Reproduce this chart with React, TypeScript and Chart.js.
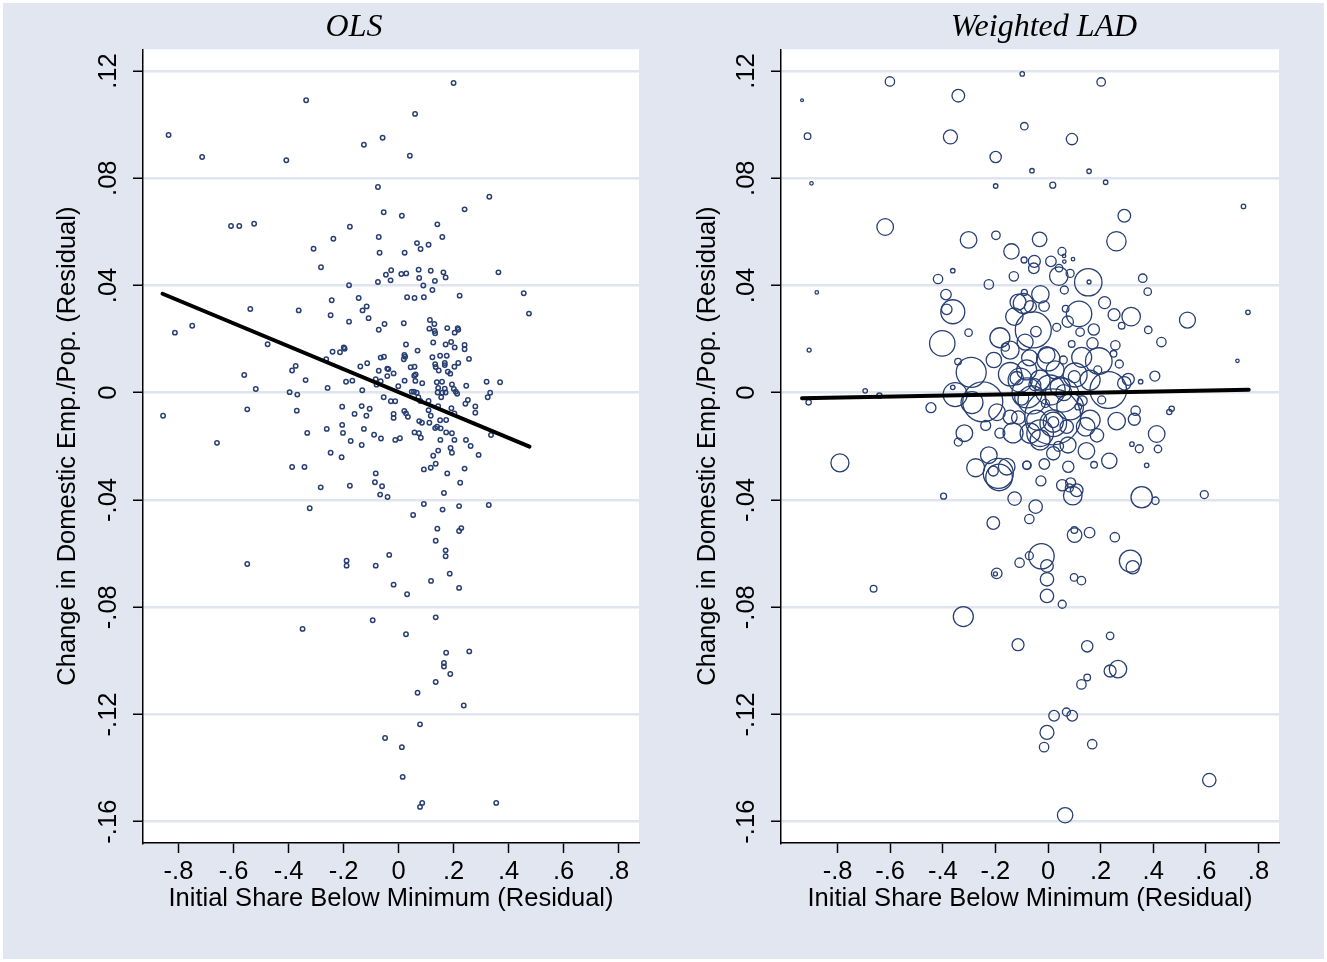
import React, { useEffect, useRef } from 'react';
import { Chart, registerables } from 'chart.js';

Chart.register(...registerables);

// ---------- data ----------
const PANEL_TITLES = ['OLS', 'Weighted LAD'];
const X_TITLE = 'Initial Share Below Minimum (Residual)';
const Y_TITLE = 'Change in Domestic Emp./Pop. (Residual)';
const X_TICKS = [-0.8, -0.6, -0.4, -0.2, 0, 0.2, 0.4, 0.6, 0.8];
const Y_TICKS = [0.12, 0.08, 0.04, 0, -0.04, -0.08, -0.12, -0.16];

// OLS panel: residual points
const OLS_X = [
  -0.836, -0.714, -0.408, -0.336, -0.126, -0.058, -0.075, -0.054, -0.072, -0.069,
  -0.609, -0.579, -0.525, -0.177, -0.237, -0.309, -0.282, -0.180, -0.075, -0.046,
  -0.145, -0.243, -0.247, -0.131, -0.116, -0.109, -0.180, -0.072, -0.051, -0.539,
  -0.363, -0.813, -0.750, -0.476, -0.240, -0.213, -0.199, -0.196, -0.263, -0.065,
  -0.053, -0.139, -0.114, -0.072, -0.041, -0.041, -0.387, -0.374, -0.338, -0.561,
  -0.519, -0.258, -0.191, -0.168, -0.132, -0.083, -0.080, -0.065, -0.856, -0.660,
  -0.550, -0.396, -0.368, -0.370, -0.332, -0.205, -0.134, -0.105, -0.160, -0.117,
  -0.054, -0.205, -0.261, -0.202, -0.126, -0.174, -0.089, -0.064, -0.134, -0.247,
  -0.207, -0.387, -0.342, -0.283, -0.177, -0.083, -0.086, -0.060, -0.067, -0.040,
  -0.323, -0.550, -0.189, -0.189, -0.083, -0.034, -0.094, -0.349, -0.049,
  0.200, 0.060, 0.041, 0.330, 0.240, 0.012, 0.141, 0.159, 0.067, 0.080,
  0.109, 0.022, -0.027, -0.029, 0.010, 0.028, 0.073, 0.075, 0.117, 0.132,
  0.163, 0.171, 0.090, 0.123, 0.363, 0.031, 0.058, 0.092, 0.222, 0.455,
  0.474, 0.019, 0.114, 0.130, 0.112, 0.131, 0.133, 0.177, 0.215, 0.217,
  0.204, 0.027, 0.126, 0.171, 0.191, 0.204, 0.240, 0.240, 0.069, 0.021,
  0.024, 0.019, 0.123, 0.151, 0.175, 0.256, 0.133, 0.168, 0.168, 0.217,
  0.203, 0.044, 0.058, 0.135, 0.146, 0.179, 0.188, -0.037, -0.018, 0.062,
  0.057, 0.022, 0.061, 0.086, 0.139, 0.158, 0.194, 0.246, 0.320, 0.369,
  -0.001, 0.201, 0.144, 0.168, 0.208, 0.213, 0.142, 0.159, 0.171, 0.048,
  0.056, 0.066, 0.333, 0.324, 0.252, 0.243, 0.279, 0.279, -0.028, -0.012,
  0.072, 0.079, 0.109, 0.155, 0.144, 0.192, 0.203, 0.173, 0.109, 0.117,
  0.021, 0.027, 0.034, -0.018, -0.018, 0.075, 0.085, 0.112, 0.151, 0.140,
  0.133, 0.153, 0.058, 0.074, 0.081, 0.173, 0.194, 0.336, -0.012, 0.005,
  0.152, 0.203, 0.245, 0.262, 0.189, 0.194, 0.144, 0.126, 0.291,
  0.092, 0.117, 0.135, 0.177, 0.240, 0.224, 0.165, 0.092, 0.160, 0.220,
  0.328, 0.053, 0.141, 0.220, 0.228, 0.135, 0.171, 0.171, 0.186, 0.118,
  0.220, -0.018, 0.031, 0.135, 0.027, 0.173, 0.257, 0.165, 0.165, 0.188,
  0.135, 0.069, 0.237, 0.078, 0.012, 0.015, 0.086, 0.078, 0.355,
];
const OLS_Y = [
  0.0961, 0.0879, 0.0867, 0.1091, 0.0925, 0.0951, 0.0767, 0.0673, 0.0581, 0.0522,
  0.0622, 0.0622, 0.0630, 0.0619, 0.0574, 0.0537, 0.0468, 0.0401, 0.0413, 0.0440,
  0.0353, 0.0345, 0.0289, 0.0307, 0.0322, 0.0278, 0.0265, 0.0235, 0.0256, 0.0312,
  0.0307, 0.0224, 0.0250, 0.0181, 0.0153, 0.0151, 0.0169, 0.0164, 0.0125, 0.0131,
  0.0134, 0.0098, 0.0110, 0.0082, 0.0090, 0.0062, 0.0083, 0.0100, 0.0047, 0.0066,
  0.0014, 0.0018, 0.0041, 0.0045, 0.0009, 0.0050, 0.0030, 0.0043, -0.0086, -0.0187,
  -0.0062, 0.0002, -0.0007, -0.0067, -0.0150, -0.0052, -0.0050, -0.0060, -0.0079, -0.0086,
  -0.0017, -0.0120, -0.0135, -0.0150, -0.0135, -0.0180, -0.0157, -0.0171, -0.0195, -0.0224,
  -0.0241, -0.0277, -0.0277, -0.0353, -0.0347, -0.0301, -0.0334, -0.0349, -0.0380, -0.0389,
  -0.0431, -0.0639, -0.0627, -0.0645, -0.0645, -0.0605, -0.0849, -0.0881, -0.1288,
  0.1155, 0.1040, 0.0884, 0.0731, 0.0684, 0.0660, 0.0628, 0.0581, 0.0558, 0.0536,
  0.0552, 0.0522, 0.0457, 0.0419, 0.0443, 0.0445, 0.0459, 0.0428, 0.0455, 0.0417,
  0.0449, 0.0430, 0.0400, 0.0383, 0.0449, 0.0356, 0.0353, 0.0356, 0.0362, 0.0371,
  0.0295, 0.0259, 0.0271, 0.0256, 0.0239, 0.0230, 0.0222, 0.0241, 0.0241, 0.0235,
  0.0224, 0.0180, 0.0187, 0.0180, 0.0189, 0.0169, 0.0178, 0.0162, 0.0157, 0.0141,
  0.0134, 0.0125, 0.0132, 0.0138, 0.0138, 0.0126, 0.0106, 0.0111, 0.0103, 0.0111,
  0.0097, 0.0095, 0.0097, 0.0096, 0.0083, 0.0078, 0.0071, 0.0088, 0.0072, 0.0068,
  0.0063, 0.0045, 0.0044, 0.0035, 0.0039, 0.0041, 0.0031, 0.0026, 0.0041, 0.0039,
  0.0024, 0.0014, 0.0018, 0.0015, 0.0004, -0.0004, 0.0001, 0.0000, 0.0001, 0.0004,
  0.0004, 0.0000, 0.0000, -0.0017, -0.0027, -0.0041, -0.0051, -0.0075, -0.0032, -0.0032,
  -0.0017, -0.0031, -0.0031, -0.0017, -0.0050, -0.0058, -0.0077, -0.0102, -0.0065, -0.0086,
  -0.0068, -0.0077, -0.0090, -0.0079, -0.0094, -0.0106, -0.0112, -0.0112, -0.0103, -0.0127,
  -0.0132, -0.0133, -0.0148, -0.0151, -0.0168, -0.0148, -0.0151, -0.0158, -0.0176, -0.0170,
  -0.0176, -0.0176, -0.0176, -0.0199, -0.0206, -0.0224, -0.0216, -0.0235, -0.0232,
  -0.0286, -0.0280, -0.0265, -0.0301, -0.0283, -0.0336, -0.0374, -0.0415, -0.0436, -0.0423,
  -0.0419, -0.0456, -0.0507, -0.0516, -0.0505, -0.0552, -0.0588, -0.0610, -0.0675, -0.0702,
  -0.0728, -0.0716, -0.0752, -0.0838, -0.0901, -0.0970, -0.0965, -0.1008, -0.1021, -0.1049,
  -0.1079, -0.1119, -0.1167, -0.1237, -0.1322, -0.1433, -0.1530, -0.1545, -0.1530,
];
const OLS_FIT_X = [-0.858, 0.476];
const OLS_FIT_Y = [0.0369, -0.0201];

// Weighted LAD panel: residual points with weights
const LAD_X = [
  -0.935, -0.601, -0.341, -0.914, -0.371, -0.098, -0.090, -0.199, -0.899, -0.199,
  -0.619, -0.302, -0.198, -0.139, -0.091, -0.362, -0.418, -0.130, -0.225, -0.879,
  -0.388, -0.090, -0.362, -0.385, -0.128, -0.402, -0.302, -0.183, -0.162, -0.908,
  -0.342, -0.206, -0.292, -0.362, -0.353, -0.289, -0.248, -0.144, -0.119, -0.695,
  -0.641, -0.910, -0.445, -0.194, -0.113, -0.318, -0.341, -0.237, -0.225, -0.791,
  -0.275, -0.189, -0.208, -0.157, -0.186, -0.081, -0.397, -0.127, -0.208, -0.108,
  -0.195, -0.200, -0.663, -0.322, -0.114, -0.071,
  -0.027, 0.054, 0.086, 0.109, 0.094, 0.081, 0.356, 0.408, 0.594, -0.047,
  -0.071, 0.101, 0.100, 0.158, 0.254, -0.025, -0.004, -0.004, -0.004, 0.054,
  0.099, 0.127, 0.313, 0.322, 0.149, 0.236, 0.236, 0.266, 0.127, 0.149,
  0.023, 0.070, 0.092, -0.004, -0.015, 0.168, 0.613, 0.065, 0.333, 0.328,
  0.261, 0.413, 0.470, 0.461, 0.319, 0.347, 0.418, 0.375, 0.233, 0.186,
  0.146, 0.143, 0.175, 0.018, 0.020, 0.020, 0.077, -0.014, -0.080, -0.030,
  -0.068, 0.020,
  0.202, 0.091, -0.061, 0.156, 0.018, 0.219, 0.743, 0.290, 0.260, -0.032,
  0.053, 0.061, 0.095, -0.052, -0.054, 0.011, 0.042, 0.062, 0.041, 0.084,
  0.153, 0.156, 0.360, 0.379, 0.062, -0.029, -0.067, -0.015, 0.067, 0.118,
  0.215, 0.251, 0.316, 0.280, 0.381, 0.530, 0.760, -0.056, -0.046, 0.033,
  0.075, 0.122, 0.174, 0.169, 0.256, 0.431, 0.090, 0.720, 0.249, 0.271,
  0.193, 0.189, 0.128, 0.001, -0.005, 0.058, -0.081, 0.406, 0.352, 0.305,
  0.290, 0.229, 0.160, 0.204, 0.084, 0.046, 0.008, -0.030, 0.020, -0.043,
  0.115, 0.071,
  -0.183, -0.050, 0.060, 0.100, -0.100, 0.040, -0.010, 0.130, -0.094, -0.070,
  -0.114, -0.087, -0.080, -0.144, -0.133, -0.061, 0.053, 0.103, -0.030, 0.076,
  0.160, -0.144, 0.027, -0.106,
];
const LAD_Y = [
  0.1091, 0.1161, 0.1108, 0.0957, 0.0954, 0.1189, 0.0994, 0.0879, 0.0781, 0.0771,
  0.0618, 0.0570, 0.0587, 0.0527, 0.0495, 0.0455, 0.0424, 0.0434, 0.0404, 0.0374,
  0.0366, 0.0374, 0.0302, 0.0311, 0.0284, 0.0184, 0.0224, 0.0205, 0.0170, 0.0159,
  0.0116, 0.0122, 0.0076, 0.0020, -0.0007, -0.0037, -0.0034, 0.0069, 0.0054, 0.0007,
  -0.0011, -0.0036, -0.0056, -0.0073, -0.0093, -0.0151, -0.0184, -0.0122, -0.0233, -0.0262,
  -0.0280, -0.0301, -0.0292, -0.0276, -0.0316, -0.0270, -0.0386, -0.0395, -0.0486, -0.0634,
  -0.0674, -0.0676, -0.0731, -0.0835, -0.0940, -0.0608,
  -0.0329, -0.0345, -0.0336, -0.0364, -0.0384, -0.0355, -0.0390, -0.0403, -0.0380, -0.0425,
  -0.0471, -0.0531, -0.0512, -0.0522, -0.0539, -0.0610, -0.0646, -0.0696, -0.0758, -0.0789,
  -0.0689, -0.0701, -0.0628, -0.0651, -0.0946, -0.0907, -0.1038, -0.1031, -0.1088, -0.1062,
  -0.1205, -0.1191, -0.1205, -0.1267, -0.1322, -0.1311, -0.1445, -0.1576, -0.0067, -0.0099,
  -0.0106, -0.0154, -0.0060, -0.0072, -0.0192, -0.0209, -0.0210, -0.0271, -0.0254, -0.0159,
  -0.0217, -0.0127, -0.0269, -0.0090, -0.0110, -0.0110, -0.0276, -0.0266, -0.0271, -0.0151,
  -0.0151, -0.0226,
  0.1159, 0.0946, 0.0828, 0.0826, 0.0774, 0.0785, 0.0695, 0.0660, 0.0565, 0.0572,
  0.0527, 0.0510, 0.0498, 0.0490, 0.0464, 0.0490, 0.0465, 0.0489, 0.0435, 0.0445,
  0.0412, 0.0413, 0.0427, 0.0377, 0.0383, 0.0367, 0.0321, 0.0323, 0.0313, 0.0294,
  0.0336, 0.0291, 0.0284, 0.0250, 0.0234, 0.0271, 0.0300, 0.0234, 0.0228, 0.0244,
  0.0265, 0.0226, 0.0236, 0.0184, 0.0177, 0.0189, 0.0182, 0.0119, 0.0145, 0.0107,
  0.0118, 0.0085, 0.0132, 0.0125, 0.0141, 0.0122, 0.0085, 0.0062, 0.0041, 0.0050,
  0.0035, 0.0010, 0.0047, -0.0027, -0.0052, 0.0022, 0.0010, 0.0047, -0.0114, -0.0102,
  -0.0052, -0.0127,
  -0.0151, 0.0030, 0.0000, 0.0060, -0.0020, -0.0200, -0.0040, -0.0030, 0.0333, 0.0130,
  0.0338, 0.0189, -0.0001, -0.0091, -0.0150, -0.0027, -0.0009, 0.0066, -0.0176, -0.0195,
  -0.0102, 0.0159, 0.0085, 0.0047,
];
const LAD_W = [
  2, 22, 40, 11, 49, 5, 14, 32, 3, 5,
  69, 69, 18, 59, 9, 5, 22, 22, 22, 3,
  28, 9, 144, 28, 76, 161, 14, 100, 16, 4,
  11, 59, 225, 5, 144, 121, 400, 137, 45, 5,
  7, 7, 25, 69, 45, 69, 16, 25, 69, 81,
  81, 225, 25, 69, 177, 16, 9, 45, 40, 22,
  28, 4, 11, 100, 36, 16,
  25, 32, 25, 40, 86, 16, 114, 14, 16, 45,
  22, 53, 11, 28, 22, 161, 40, 45, 45, 16,
  14, 18, 121, 45, 32, 14, 36, 76, 22, 11,
  28, 16, 28, 49, 22, 22, 45, 59, 22, 36,
  76, 69, 7, 7, 5, 16, 14, 5, 59, 45,
  69, 86, 11, 784, 100, 30, 32, 28, 18, 177,
  100, 45,
  18, 32, 5, 5, 9, 5, 5, 40, 94, 53,
  16, 3, 3, 36, 28, 28, 14, 3, 86, 16,
  188, 4, 18, 14, 16, 76, 36, 28, 11, 161,
  36, 36, 86, 11, 14, 64, 5, 324, 28, 16,
  32, 18, 32, 32, 22, 22, 11, 3, 11, 16,
  177, 16, 100, 137, 69, 16, 100, 25, 5, 36,
  45, 335, 100, 16, 177, 100, 225, 100, 177, 100,
  11, 45,
  25, 36, 64, 36, 49, 25, 16, 25, 100, 64,
  64, 64, 225, 49, 100, 196, 289, 144, 100, 64,
  100, 81, 81, 144,
];
const LAD_FIT_X = [-0.935, 0.763];
const LAD_FIT_Y = [-0.0021, 0.0011];

// ---------- styling ----------
const NAVY = '#283f73';
const BG = '#e2e6f0';
const GRID = '#dfe4ee';
const SANS = '"Liberation Sans", Arial, Helvetica, sans-serif';
const SERIF = '"Liberation Serif", "Times New Roman", serif';
const Y_MIN = -0.16796;
const Y_MAX = 0.12809;

const fmt = (v: number) => {
  const r = Math.round(v * 100) / 100;
  if (r === 0) return '0';
  return (r < 0 ? '-' : '') + String(Math.abs(r)).replace(/^0/, '');
};

const plotBg = {
  id: 'plotBg',
  beforeDraw(chart: any) {
    const { ctx, chartArea } = chart;
    if (!chartArea) return;
    ctx.save();
    ctx.fillStyle = '#ffffff';
    ctx.fillRect(chartArea.left, chartArea.top, chartArea.right - chartArea.left, chartArea.bottom - chartArea.top);
    ctx.restore();
  },
};

function buildConfig(panel: number): any {
  const isOLS = panel === 0;
  const xMin = isOLS ? -0.929 : -1.015;
  const xMax = isOLS ? 0.874 : 0.878;
  const yWidth = isOLS ? 143 : 91;
  const yTitleTop = isOLS ? 52.7 : 2.7;
  const rightGap = isOLS ? 69 : 119;

  const fitX = isOLS ? OLS_FIT_X : LAD_FIT_X;
  const fitY = isOLS ? OLS_FIT_Y : LAD_FIT_Y;
  const fitLine = {
    type: 'line',
    data: fitX.map((x, i) => ({ x, y: fitY[i] })),
    borderColor: '#000000',
    borderWidth: 4,
    pointRadius: 0,
    pointHoverRadius: 0,
    fill: false,
    tension: 0,
    borderCapStyle: 'round',
  };
  const points = isOLS
    ? {
        type: 'scatter',
        data: OLS_X.map((x, i) => ({ x, y: OLS_Y[i] })),
        pointRadius: 2.2,
        pointHoverRadius: 2.2,
        pointBorderWidth: 1.5,
        borderColor: NAVY,
        backgroundColor: 'rgba(0,0,0,0)',
      }
    : {
        type: 'bubble',
        data: LAD_X.map((x, i) => ({ x, y: LAD_Y[i], r: Math.sqrt(LAD_W[i]) })),
        borderWidth: 1.3,
        hoverBorderWidth: 1.3,
        borderColor: NAVY,
        backgroundColor: 'rgba(0,0,0,0)',
      };

  const tickFont = { family: SANS, size: 25.5 };
  return {
    type: 'scatter',
    data: { datasets: [fitLine, points] },
    plugins: [plotBg],
    options: {
      responsive: false,
      maintainAspectRatio: false,
      animation: false,
      events: [],
      layout: { padding: 0 },
      plugins: {
        legend: { display: false },
        tooltip: { enabled: false },
        title: {
          display: true,
          text: PANEL_TITLES[panel],
          color: '#000000',
          font: { family: SERIF, size: 32, style: 'italic', weight: 'normal', lineHeight: 1.2 },
          padding: { top: 8.3, bottom: 2.6 },
        },
      },
      scales: {
        x: {
          type: 'linear',
          min: xMin,
          max: xMax,
          afterBuildTicks: (s: any) => {
            s.ticks = X_TICKS.map((v) => ({ value: v }));
          },
          afterFit: (s: any) => {
            s.height = 119;
          },
          ticks: {
            callback: (v: number) => fmt(v),
            font: tickFont,
            color: '#000000',
            padding: 4,
            maxRotation: 0,
            minRotation: 0,
            autoSkip: false,
          },
          grid: {
            drawOnChartArea: false,
            drawTicks: true,
            tickLength: 10,
            tickColor: '#000000',
            tickWidth: 1.5,
          },
          border: { display: true, color: '#000000', width: 1.5 },
          title: {
            display: true,
            text: X_TITLE,
            color: '#000000',
            font: { family: SANS, size: 25.5, lineHeight: 1.2 },
            padding: { top: 0, bottom: 47.7 },
          },
        },
        y: {
          type: 'linear',
          position: 'left',
          min: Y_MIN,
          max: Y_MAX,
          afterBuildTicks: (s: any) => {
            s.ticks = Y_TICKS.map((v) => ({ value: v }));
          },
          afterFit: (s: any) => {
            s.width = yWidth;
          },
          ticks: {
            callback: (v: number) => fmt(v),
            font: tickFont,
            color: '#000000',
            padding: 2,
            minRotation: 90,
            maxRotation: 90,
            crossAlign: 'center',
            autoSkip: false,
          },
          grid: {
            color: GRID,
            lineWidth: 2.5,
            drawTicks: true,
            tickLength: 10,
            tickColor: '#000000',
            tickWidth: 1.5,
          },
          border: { display: true, color: '#000000', width: 1.5 },
          title: {
            display: true,
            text: Y_TITLE,
            color: '#000000',
            font: { family: SANS, size: 25.5, lineHeight: 1.2 },
            padding: { top: yTitleTop, bottom: 0 },
          },
        },
        // empty right-hand margin of the panel (keeps the panel title centred like the original)
        yGap: {
          type: 'linear',
          position: 'right',
          display: true,
          afterFit: (s: any) => {
            s.width = rightGap;
          },
          ticks: { display: false },
          grid: { display: false, drawTicks: false },
          border: { display: false },
          title: { display: false },
        },
      },
    },
  };
}

export default function App() {
  const leftRef = useRef<HTMLCanvasElement | null>(null);
  const rightRef = useRef<HTMLCanvasElement | null>(null);

  useEffect(() => {
    const charts: Chart[] = [];
    if (leftRef.current) charts.push(new Chart(leftRef.current, buildConfig(0)));
    if (rightRef.current) charts.push(new Chart(rightRef.current, buildConfig(1)));
    return () => charts.forEach((c) => c.destroy());
  }, []);

  return (
    <div
      style={{
        position: 'absolute',
        left: 0,
        top: 0,
        width: 1327,
        height: 962,
        overflow: 'hidden',
        background: '#ffffff',
      }}
    >
      <div style={{ position: 'absolute', left: 3, top: 3, right: 3, bottom: 3, background: BG }} />
      <canvas
        ref={leftRef}
        width={708}
        height={962}
        style={{ position: 'absolute', left: 0, top: 0, width: 708, height: 962 }}
      />
      <canvas
        ref={rightRef}
        width={708}
        height={962}
        style={{ position: 'absolute', left: 690, top: 0, width: 708, height: 962 }}
      />
    </div>
  );
}
